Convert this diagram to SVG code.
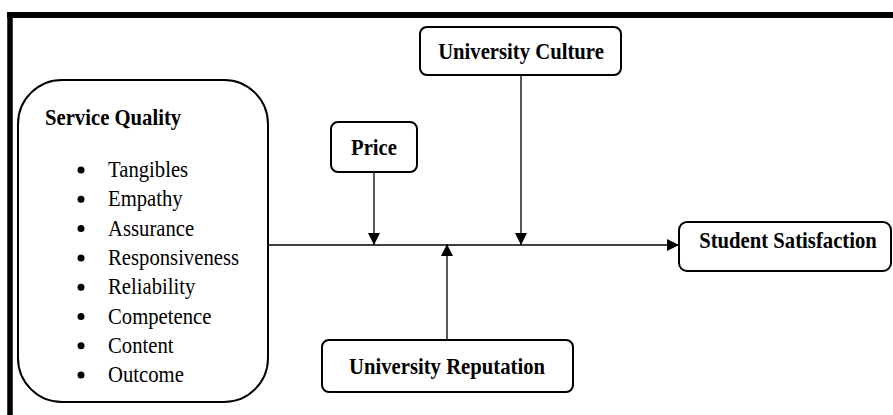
<svg xmlns="http://www.w3.org/2000/svg" width="893" height="415" viewBox="0 0 893 415">
<style>
.box{fill:#fff;stroke:#000;stroke-width:2}
.t{font-family:"Liberation Serif","Times New Roman",serif;font-size:22.5px;fill:#000}
.b{font-weight:bold}
.c{stroke:#000;stroke-width:1.3;fill:none}
</style>
<defs>
<marker id="ah" markerWidth="12" markerHeight="12" refX="12" refY="6" orient="auto" markerUnits="userSpaceOnUse">
<path d="M0,0 L12,6 L0,12 Z" fill="#000"/>
</marker>
</defs>
<rect width="893" height="415" fill="#fff"/>
<g id="frame">
<line x1="7" y1="15" x2="893" y2="15" stroke="#000" stroke-width="6"/>
<line x1="10" y1="12" x2="10" y2="415" stroke="#000" stroke-width="5.5"/>
</g>
<g id="connectors">
<line class="c" x1="268" y1="245" x2="679" y2="245" marker-end="url(#ah)"/>
<line class="c" x1="374" y1="172" x2="374" y2="245" marker-end="url(#ah)"/>
<line class="c" x1="521" y1="75" x2="521" y2="245" marker-end="url(#ah)"/>
<line class="c" x1="447" y1="340" x2="447" y2="244" marker-end="url(#ah)"/>
</g>
<g id="service-quality">
<rect class="box" x="18" y="80" width="250" height="322" rx="44" ry="44"/>
<text class="t b" transform="translate(45,125) scale(0.92,1)">Service Quality</text>
<g fill="#000">
<circle cx="81" cy="170" r="3.5"/>
<circle cx="81" cy="199.3" r="3.5"/>
<circle cx="81" cy="228.6" r="3.5"/>
<circle cx="81" cy="257.9" r="3.5"/>
<circle cx="81" cy="287.2" r="3.5"/>
<circle cx="81" cy="316.5" r="3.5"/>
<circle cx="81" cy="345.8" r="3.5"/>
<circle cx="81" cy="375.1" r="3.5"/>
</g>
<text class="t" transform="translate(108,177) scale(0.92,1)">Tangibles</text>
<text class="t" transform="translate(108,206.3) scale(0.92,1)">Empathy</text>
<text class="t" transform="translate(108,235.6) scale(0.92,1)">Assurance</text>
<text class="t" transform="translate(108,264.9) scale(0.92,1)">Responsiveness</text>
<text class="t" transform="translate(108,294.2) scale(0.92,1)">Reliability</text>
<text class="t" transform="translate(108,323.5) scale(0.92,1)">Competence</text>
<text class="t" transform="translate(108,352.8) scale(0.92,1)">Content</text>
<text class="t" transform="translate(108,382.1) scale(0.92,1)">Outcome</text>
</g>
<g id="price">
<rect class="box" x="331" y="122" width="86" height="50" rx="7" ry="7"/>
<text class="t b" transform="translate(374,155) scale(0.92,1)" text-anchor="middle">Price</text>
</g>
<g id="university-culture">
<rect class="box" x="420" y="27" width="201" height="48" rx="7" ry="7"/>
<text class="t b" transform="translate(521,59) scale(0.92,1)" text-anchor="middle">University Culture</text>
</g>
<g id="student-satisfaction">
<rect class="box" x="679" y="222" width="212" height="49" rx="8" ry="8"/>
<text class="t b" transform="translate(788,248) scale(0.92,1)" text-anchor="middle">Student Satisfaction</text>
</g>
<g id="university-reputation">
<rect class="box" x="322" y="340" width="251" height="52" rx="7" ry="7"/>
<text class="t b" transform="translate(447,374) scale(0.92,1)" text-anchor="middle">University Reputation</text>
</g>
</svg>
